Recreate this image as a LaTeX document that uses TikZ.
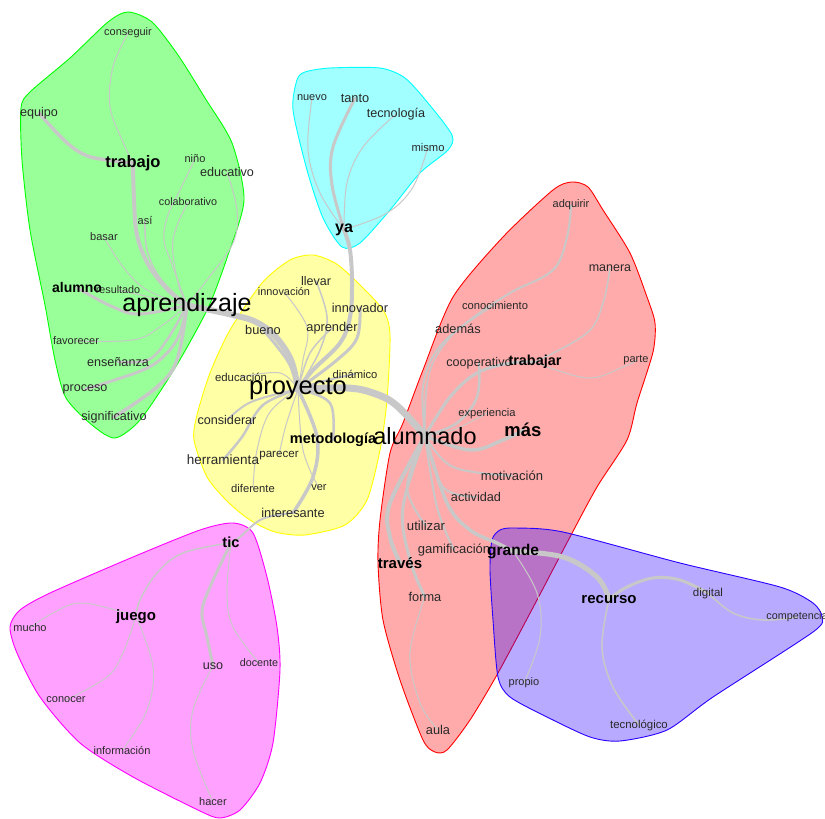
\documentclass[tikz,border=0pt]{standalone}
\usepackage{fontspec}
\setmainfont{Liberation Sans}
\pgfdeclarelayer{hull}
\pgfdeclarelayer{edge}
\pgfsetlayers{hull,edge,main}
\definecolor{ec}{RGB}{200,200,200}
\definecolor{tc}{RGB}{40,40,40}
\definecolor{hG}{RGB}{0,255,0}
\definecolor{hC}{RGB}{0,255,255}
\definecolor{hY}{RGB}{255,255,0}
\definecolor{hR}{RGB}{255,0,0}
\definecolor{hB}{RGB}{40,0,255}
\definecolor{hM}{RGB}{255,0,255}
\tikzset{
  ws/.style={inner sep=0pt, anchor=base, yshift=-0.27*#1pt, text=tc, font=\fontsize{#1}{#1}\selectfont},
  wb/.style={inner sep=0pt, anchor=base, yshift=-0.27*#1pt, text=black, font=\bfseries\fontsize{#1}{#1}\selectfont},
  wl/.style={inner sep=0pt, anchor=base, yshift=-0.27*#1pt, text=black, font=\fontsize{#1}{#1}\selectfont},
  ln/.style={draw=ec, line width=#1pt, line cap=round, line join=round},
  hull/.style={draw=#1, fill=#1, line width=0.9pt},
}
\begin{document}
\begin{tikzpicture}[x=1pt,y=-1pt]
\useasboundingbox (0,0) rectangle (825,819);
% ---------- green group
\node[ws=11] (conseguir) at (128,33) {conseguir};
\node[ws=12.6] (equipo) at (39,113) {equipo};
\node[wb=16.5] (trabajo) at (133,163) {trabajo};
\node[ws=11] (nino) at (195,160) {niño};
\node[ws=12.6] (educativo) at (227,173) {educativo};
\node[ws=10.8] (colaborativo) at (188,203) {colaborativo};
\node[ws=11] (asi) at (145,222) {así};
\node[ws=11] (basar) at (104,238) {basar};
\node[ws=10.8] (resultado) at (118,291) {resultado};
\node[wb=14] (alumno) at (77,289) {alumno};
\node[wl=25] (aprendizaje) at (187,305) {aprendizaje};
\node[ws=11] (favorecer) at (76,342) {favorecer};
\node[ws=12.6] (ensenanza) at (118,363) {enseñanza};
\node[ws=12.6] (proceso) at (85,388) {proceso};
\node[ws=12.6] (significativo) at (114,417) {significativo};
% ---------- cyan group
\node[ws=11] (nuevo) at (312,98) {nuevo};
\node[ws=12.8] (tanto) at (355,99) {tanto};
\node[ws=12.6] (tecnologia) at (396,114) {tecnología};
\node[ws=11.2] (mismo) at (428,148) {mismo};
\node[wb=16] (ya) at (344,228) {ya};
% ---------- yellow group
\node[ws=12.5] (llevar) at (316,282) {llevar};
\node[ws=10.9] (innovacion) at (284,293) {innovación};
\node[ws=12.8] (innovador) at (360,309) {innovador};
\node[ws=12.8] (bueno) at (263,331) {bueno};
\node[ws=12.8] (aprender) at (332,328) {aprender};
\node[ws=11.2] (dinamico) at (355,375) {dinámico};
\node[ws=11.4] (educacion) at (241,378) {educación};
\node[wl=25.5] (proyecto) at (298,388) {proyecto};
\node[ws=12.6] (considerar) at (227,421) {considerar};
\node[ws=13.5] (herramienta) at (223,461) {herramienta};
\node[ws=11.6] (parecer) at (279,454) {parecer};
\node[ws=11.2] (diferente) at (253,489) {diferente};
\node[ws=11] (ver) at (319,488) {ver};
\node[ws=12.8] (interesante) at (293,514) {interesante};
% ---------- red group
\node[ws=11] (adquirir) at (571,205) {adquirir};
\node[ws=12.5] (manera) at (610,268) {manera};
\node[ws=11.2] (conocimiento) at (495,306) {conocimiento};
\node[ws=12.8] (ademas) at (458,330) {además};
\node[ws=12.6] (cooperativo) at (479,363) {cooperativo};
\node[wb=14.4] (trabajar) at (535,362) {trabajar};
\node[ws=11] (parte) at (636,360) {parte};
\node[ws=11.2] (experiencia) at (487,413) {experiencia};
\node[ws=13] (motivacion) at (512,477) {motivación};
\node[ws=12.7] (actividad) at (476,498) {actividad};
\node[ws=13.2] (utilizar) at (426,527) {utilizar};
\node[ws=13] (gamificacion) at (454,550) {gamificación};
\node[wb=15.6] (grande) at (513,551) {grande};
\node[wb=15] (traves) at (400,564) {través};
\node[ws=12.8] (forma) at (425,598) {forma};
\node[ws=12.8] (aula) at (438,731) {aula};
\node[wb=14.5] (metodologia) at (333,440) {metodología};
\node[wl=23.5] (alumnado) at (425,438) {alumnado};
\node[wb=18.5] (mas) at (523,432) {más};
% ---------- blue group
\node[wb=15] (recurso) at (609,599) {recurso};
\node[ws=11.5] (digital) at (708,593) {digital};
\node[ws=10.8] (competencia) at (797,617) {competencia};
\node[ws=11] (propio) at (524,683) {propio};
\node[ws=11.4] (tecnologico) at (639,725) {tecnológico};
% ---------- magenta group
\node[wb=14.6] (tic) at (231,544) {tic};
\node[wb=15] (juego) at (136,616) {juego};
\node[ws=11] (mucho) at (30,629) {mucho};
\node[ws=12.6] (uso) at (213,666) {uso};
\node[ws=10.8] (docente) at (259,664) {docente};
\node[ws=11] (conocer) at (66,700) {conocer};
\node[ws=11] (informacion) at (122,752) {información};
\node[ws=11] (hacer) at (213,803) {hacer};

% ---------- hulls
\begin{pgfonlayer}{hull}
\path[hull=hG, fill opacity=0.4] plot[smooth cycle, tension=0.45] coordinates {(128,12) (152,22) (178,55) (205,98) (232,143) (244,200) (228,255) (208,308) (175,368) (140,420) (115,438) (92,425) (66,398) (55,360) (45,305) (30,230) (22,160) (21,108) (30,92) (70,58) (108,22)};
\path[hull=hC, fill opacity=0.37] plot[smooth cycle, tension=0.45] coordinates {(330,68) (380,68) (405,78) (428,103) (452,135) (448,150) (420,173) (390,210) (360,243) (342,247) (323,218) (307,170) (293,110) (297,80) (305,72)};
\path[hull=hY, fill opacity=0.35] plot[smooth cycle, tension=0.45] coordinates {(313,255) (335,263) (355,280) (383,310) (390,335) (387,400) (380,450) (367,500) (345,525) (305,535) (275,532) (250,520) (228,502) (207,477) (194,440) (197,415) (210,373) (230,330) (262,283) (290,260)};
\path[hull=hR, fill opacity=0.33] plot[smooth cycle, tension=0.45] coordinates {(572,182) (588,187) (603,210) (630,253) (647,297) (655,323) (653,352) (637,403) (627,440) (597,487) (570,537) (537,600) (498,673) (470,720) (447,750) (435,752) (423,740) (400,680) (383,620) (378,563) (380,520) (390,453) (403,423) (423,370) (453,297) (503,237) (553,190)};
\path[hull=hB, fill opacity=0.33] plot[smooth cycle, tension=0.45] coordinates {(500,530) (515,528) (563,532) (680,563) (780,587) (813,603) (822,617) (813,632) (713,697) (667,730) (620,741) (590,737) (547,717) (510,697) (498,677) (493,620) (490,570) (492,540)};
\path[hull=hM, fill opacity=0.37] plot[smooth cycle, tension=0.45] coordinates {(233,523) (253,533) (267,577) (277,627) (280,670) (273,743) (260,783) (240,810) (220,818) (200,811) (133,777) (80,743) (40,697) (17,653) (10,627) (20,610) (50,593) (133,557) (200,530)};
\end{pgfonlayer}

% ---------- edges
\begin{pgfonlayer}{edge}
% green
\draw[ln=3.5] plot[smooth, tension=0.6] coordinates {(trabajo.center) (107,160) (85,155) (65,141) (equipo.center)};
\draw[ln=1] plot[smooth, tension=0.6] coordinates {(conseguir.center) (113,67) (110,107) (123,142) (trabajo.center)};
\draw[ln=4] plot[smooth, tension=0.6] coordinates {(aprendizaje.center) (167,289) (148,264) (137,235) (134,200) (trabajo.center)};
\draw[ln=1] plot[smooth, tension=0.6] coordinates {(aprendizaje.center) (173,267) (164,240) (168,215) (180,190) (nino.center)};
\draw[ln=1] plot[smooth, tension=0.6] coordinates {(aprendizaje.center) (178,283) (173,240) (colaborativo.center)};
\draw[ln=1] plot[smooth, tension=0.6] coordinates {(aprendizaje.center) (207,280) (233,243) (237,210) (educativo.center)};
\draw[ln=1.5] plot[smooth, tension=0.6] coordinates {(aprendizaje.center) (160,278) (147,250) (asi.center)};
\draw[ln=1] plot[smooth, tension=0.6] coordinates {(aprendizaje.center) (147,290) (123,267) (basar.center)};
\draw[ln=1] plot[smooth, tension=0.6] coordinates {(aprendizaje.center) (150,297) (resultado.center)};
\draw[ln=3] plot[smooth, tension=0.6] coordinates {(aprendizaje.center) (140,314) (113,307) (alumno.center)};
\draw[ln=1] plot[smooth, tension=0.6] coordinates {(aprendizaje.center) (160,327) (133,340) (favorecer.center)};
\draw[ln=2.5] plot[smooth, tension=0.6] coordinates {(aprendizaje.center) (167,340) (148,360) (ensenanza.center)};
\draw[ln=3] plot[smooth, tension=0.6] coordinates {(aprendizaje.center) (180,333) (167,353) (143,370) (proceso.center)};
\draw[ln=3.5] plot[smooth, tension=0.6] coordinates {(aprendizaje.center) (177,360) (157,387) (significativo.center)};
\draw[ln=6] plot[smooth, tension=0.6] coordinates {(aprendizaje.center) (233,315) (256,322) (275,336) (291,360) (proyecto.center)};
\draw[ln=3] plot[smooth, tension=0.6] coordinates {(bueno.center) (276,345) (290,365) (proyecto.center)};
% cyan
\draw[ln=3] plot[smooth, tension=0.6] coordinates {(ya.center) (332,185) (333,147) (tanto.center)};
\draw[ln=1] plot[smooth, tension=0.6] coordinates {(ya.center) (320,193) (308,150) (nuevo.center)};
\draw[ln=1] plot[smooth, tension=0.6] coordinates {(ya.center) (347,183) (363,147) (tecnologia.center)};
\draw[ln=1] plot[smooth, tension=0.6] coordinates {(ya.center) (387,213) (413,187) (mismo.center)};
\draw[ln=4] plot[smooth, tension=0.6] coordinates {(proyecto.center) (313,370) (340,343) (350,317) (352,283) (350,250) (ya.center)};
% yellow
\draw[ln=3] plot[smooth, tension=0.6] coordinates {(proyecto.center) (337,360) (357,338) (innovador.center)};
\draw[ln=1.5] plot[smooth, tension=0.6] coordinates {(proyecto.center) (320,350) (327,317) (llevar.center)};
\draw[ln=1] plot[smooth, tension=0.6] coordinates {(proyecto.center) (303,360) (307,327) (innovacion.center)};
\draw[ln=1.5] plot[smooth, tension=0.6] coordinates {(proyecto.center) (310,353) (aprender.center)};
\draw[ln=2] plot[smooth, tension=0.6] coordinates {(proyecto.center) (320,382) (dinamico.center)};
\draw[ln=1] plot[smooth, tension=0.6] coordinates {(proyecto.center) (280,373) (educacion.center)};
\draw[ln=2] plot[smooth, tension=0.6] coordinates {(proyecto.center) (273,395) (247,404) (considerar.center)};
\draw[ln=2.5] plot[smooth, tension=0.6] coordinates {(proyecto.center) (263,405) (242,437) (herramienta.center)};
\draw[ln=1] plot[smooth, tension=0.6] coordinates {(proyecto.center) (286,425) (parecer.center)};
\draw[ln=1] plot[smooth, tension=0.6] coordinates {(proyecto.center) (270,412) (257,450) (diferente.center)};
\draw[ln=1] plot[smooth, tension=0.6] coordinates {(proyecto.center) (303,450) (ver.center)};
\draw[ln=3.5] plot[smooth, tension=0.6] coordinates {(proyecto.center) (317,437) (313,477) (interesante.center)};
\draw[ln=2.5] plot[smooth, tension=0.6] coordinates {(proyecto.center) (330,403) (metodologia.center)};
\draw[ln=2] plot[smooth, tension=0.6] coordinates {(interesante.center) (262,519) (240,537) (tic.center)};
\draw[ln=7] plot[smooth, tension=0.6] coordinates {(proyecto.center) (347,388) (373,393) (396,405) (alumnado.center)};
% red
\draw[ln=3] plot[smooth, tension=0.6] coordinates {(alumnado.center) (450,397) (477,373) (510,363) (trabajar.center)};
\draw[ln=2.5] plot[smooth, tension=0.6] coordinates {(alumnado.center) (457,423) (477,397) (cooperativo.center)};
\draw[ln=1.5] plot[smooth, tension=0.6] coordinates {(trabajar.center) (587,333) (603,303) (manera.center)};
\draw[ln=1] plot[smooth, tension=0.6] coordinates {(trabajar.center) (587,378) (623,367) (parte.center)};
\draw[ln=2] plot[smooth, tension=0.6] coordinates {(alumnado.center) (423,387) (437,350) (470,320) (510,293) (553,270) (567,237) (adquirir.center)};
\draw[ln=1] plot[smooth, tension=0.6] coordinates {(alumnado.center) (427,383) (447,340) (conocimiento.center)};
\draw[ln=1] plot[smooth, tension=0.6] coordinates {(alumnado.center) (430,370) (ademas.center)};
\draw[ln=1] plot[smooth, tension=0.6] coordinates {(alumnado.center) (453,430) (experiencia.center)};
\draw[ln=3.5] plot[smooth, tension=0.6] coordinates {(alumnado.center) (470,450) (503,440) (mas.center)};
\draw[ln=2] plot[smooth, tension=0.6] coordinates {(alumnado.center) (453,467) (motivacion.center)};
\draw[ln=2] plot[smooth, tension=0.6] coordinates {(alumnado.center) (443,487) (actividad.center)};
\draw[ln=3.5] plot[smooth, tension=0.6] coordinates {(alumnado.center) (447,503) (470,530) (497,543) (grande.center)};
\draw[ln=2] plot[smooth, tension=0.6] coordinates {(alumnado.center) (437,507) (gamificacion.center)};
\draw[ln=2] plot[smooth, tension=0.6] coordinates {(alumnado.center) (407,487) (utilizar.center)};
\draw[ln=4] plot[smooth, tension=0.6] coordinates {(alumnado.center) (390,503) (390,537) (traves.center)};
\draw[ln=3] plot[smooth, tension=0.6] coordinates {(alumnado.center) (403,507) (410,560) (forma.center)};
\draw[ln=1] plot[smooth, tension=0.6] coordinates {(forma.center) (410,653) (420,703) (aula.center)};
\draw[ln=5] plot[smooth, tension=0.6] coordinates {(grande.center) (563,557) (597,577) (recurso.center)};
\draw[ln=1] plot[smooth, tension=0.6] coordinates {(grande.center) (537,593) (540,637) (propio.center)};
% blue
\draw[ln=3] plot[smooth, tension=0.6] coordinates {(recurso.center) (627,587) (653,578) (680,580) (digital.center)};
\draw[ln=1.5] plot[smooth, tension=0.6] coordinates {(digital.center) (733,613) (763,620) (competencia.center)};
\draw[ln=1.5] plot[smooth, tension=0.6] coordinates {(recurso.center) (602,647) (613,687) (tecnologico.center)};
% magenta
\draw[ln=1.5] plot[smooth, tension=0.6] coordinates {(tic.center) (183,553) (157,573) (140,600) (juego.center)};
\draw[ln=3] plot[smooth, tension=0.6] coordinates {(tic.center) (210,587) (202,612) (207,637) (uso.center)};
\draw[ln=1] plot[smooth, tension=0.6] coordinates {(tic.center) (227,593) (233,627) (docente.center)};
\draw[ln=1] plot[smooth, tension=0.6] coordinates {(juego.center) (83,603) (53,613) (mucho.center)};
\draw[ln=1] plot[smooth, tension=0.6] coordinates {(juego.center) (123,653) (107,677) (conocer.center)};
\draw[ln=1] plot[smooth, tension=0.6] coordinates {(juego.center) (153,667) (147,710) (informacion.center)};
\draw[ln=1] plot[smooth, tension=0.6] coordinates {(uso.center) (193,710) (193,750) (hacer.center)};
\end{pgfonlayer}
\end{tikzpicture}
\end{document}
